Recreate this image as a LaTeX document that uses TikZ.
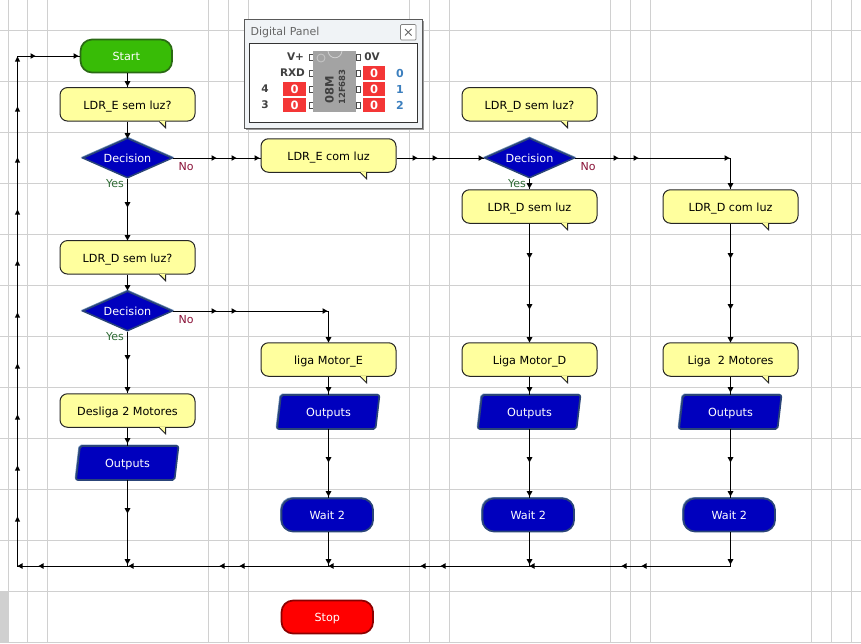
\documentclass[tikz,border=0pt]{standalone}
\usepackage{fontspec}
\setmainfont{DejaVu Sans}
\usetikzlibrary{shapes.geometric}
\definecolor{gridc}{HTML}{D0D0D0}
\definecolor{noteY}{HTML}{FFFF9E}
\definecolor{flowB}{HTML}{0000BE}
\definecolor{rimL}{HTML}{6A8CB8}
\definecolor{rimD}{HTML}{2A4478}
\definecolor{yesC}{HTML}{2F6B35}
\definecolor{noC}{HTML}{8A1238}
\definecolor{pinRed}{HTML}{F43636}
\definecolor{pinBlue}{HTML}{3C7FBE}
\definecolor{startG}{HTML}{38BC06}
\definecolor{startD}{HTML}{2A6A14}
\definecolor{panelBg}{HTML}{F0F3F6}
\tikzset{
  gridline/.style={gridc,line width=1pt},
  conn/.style={black,line width=1pt},
  txt/.style={font=\fontsize{11.2}{12}\selectfont,text height=9.5pt,text depth=0pt},
  note/.style={txt,draw=black!85,line width=1pt,fill=noteY,rounded corners=7.5pt,
    minimum width=135pt,minimum height=33.5pt,inner sep=0pt,text=black},
  noteTail/.style={draw=black!85,line width=1pt,fill=noteY,line join=miter},
  capsule/.style={txt,rounded corners=11.5pt,minimum width=91.5pt,minimum height=33pt,inner sep=0pt,text=white,line width=1.7pt},
  waitbox/.style={capsule,fill=flowB,draw=rimD,preaction={draw=rimL,line width=1.7pt,transform canvas={shift={(-0.6pt,0.6pt)}}}},
  startbox/.style={capsule,fill=startG,draw=startD},
  stopbox/.style={capsule,fill=red,draw=red!55!black},
  decide/.style={txt,diamond,aspect=2.25,inner sep=0pt,minimum width=90pt,minimum height=40pt,fill=flowB,draw=rimD,line width=1.5pt,text=white,
    preaction={draw=rimL,line width=1.5pt,transform canvas={shift={(0pt,0.8pt)}}}},
  outshape/.style={fill=flowB,draw=rimD,line width=1.7pt,rounded corners=2pt,preaction={draw=rimL,line width=1.7pt,transform canvas={shift={(-0.6pt,0.6pt)}}}},
  outtext/.style={txt,text=white,minimum width=94pt,minimum height=33pt,inner sep=0pt},
  yeslabel/.style={font=\fontsize{11}{12}\selectfont,text=yesC,inner sep=0pt},
  nolabel/.style={font=\fontsize{11}{12}\selectfont,text=noC,inner sep=0pt},
  redcell/.style={fill=pinRed,minimum width=22.5pt,minimum height=14.5pt,inner sep=0pt,text=white,font=\fontsize{11.5}{12}\bfseries\selectfont},
  panellabel/.style={font=\fontsize{10.5}{12}\bfseries\selectfont,text=black!75,inner sep=0pt},
  bluelabel/.style={font=\fontsize{11}{12}\bfseries\selectfont,text=pinBlue,inner sep=0pt},
  pinbox/.style={fill=white,draw=black!70,line width=0.7pt},
}
\newcommand{\tipD}[2]{\fill (#1,#2) ++(0,2.5) -- ++(-3,-5.5) -- ++(6,0) -- cycle;}
\newcommand{\tipU}[2]{\fill (#1,#2) ++(0,-2.5) -- ++(-2.6,5) -- ++(5.2,0) -- cycle;}
\newcommand{\tipR}[2]{\fill (#1,#2) ++(2.5,0) -- ++(-5,-2.8) -- ++(0,5.6) -- cycle;}
\newcommand{\tipL}[2]{\fill (#1,#2) ++(-2.5,0) -- ++(5,-2.8) -- ++(0,5.6) -- cycle;}
\newcommand{\notebox}[4]{%
  \node[note] (#1) at (#2,#3) {#4};
  \draw[noteTail] ([xshift=32pt]#1.south) -- ++(6,6) -- ++(0,-6);
  \draw[noteY,line width=1pt] ([xshift=32.8pt,yshift=-0.1pt]#1.south) -- ++(4.5,0);
}
\newcommand{\outbox}[3]{%
  \path[outshape] (#2-47.5,#3-17) -- (#2+51,#3-17) -- (#2+47,#3+17) -- (#2-51.5,#3+17) -- cycle;
  \node[outtext] (#1) at (#2,#3) {Outputs};
}
\begin{document}
\begin{tikzpicture}[x=1pt,y=-1pt]
\useasboundingbox (0,0) rectangle (861,643);
\fill[white] (0,0) rectangle (861,643);
\fill[gridc] (0,591) rectangle (8,643);
% grid
\foreach \g in {30.5,81.5,132.5,183.5,234.5,285.5,336.5,387.5,438.5,489.5,540.5,591.5,642.5}
  \draw[gridline] (0,\g) -- (861,\g);
\foreach \g in {8,27.5,47.5,208.5,228.5,248.5,409.5,429.5,449.5,610.5,630.5,650.5,811.5,831.5,851.5}
  \draw[gridline] (\g,0) -- (\g,643);

% column 1
\node[startbox] (start) at (126.3,56) {Start};
\notebox{n1}{127.5}{104.3}{LDR\_E sem luz?}
\node[decide] (d1) at (127.5,158) {Decision};
\notebox{n2}{127.5}{257.3}{LDR\_D sem luz?}
\node[decide] (d3) at (127.5,311) {Decision};
\notebox{n3}{127.5}{410.5}{Desliga 2 Motores}
\outbox{o1}{127.5}{463}
% column 2
\notebox{n4}{328.5}{155.5}{LDR\_E com luz}
\notebox{n5}{328.5}{359.5}{liga Motor\_E}
\outbox{o2}{328.5}{412}
\node[waitbox] (w2) at (327.3,515) {Wait 2};
\node[stopbox] (stop) at (327.3,617) {Stop};
% column 3
\notebox{n6}{529.5}{104.3}{LDR\_D sem luz?}
\node[decide] (d2) at (529.5,158) {Decision};
\notebox{n7}{529.5}{206.5}{LDR\_D sem luz}
\notebox{n8}{529.5}{359.5}{Liga Motor\_D}
\outbox{o3}{529.5}{412}
\node[waitbox] (w3) at (528.3,515) {Wait 2};
% column 4
\notebox{n9}{730.5}{206.5}{LDR\_D com luz}
\notebox{n10}{730.5}{359.5}{Liga\ \ 2 Motores}
\outbox{o4}{730.5}{412}
\node[waitbox] (w4) at (729.3,515) {Wait 2};

% free corners
\coordinate (busR) at (730.5,566);
\coordinate (busL) at (17.5,566);
\coordinate (topL) at (17.5,56);
\coordinate (cornD) at (730.5,158);
\coordinate (cornE) at (328.5,311);

% connectors
\draw[conn] (n1 |- start.south) -- (n1);
\draw[conn] (n1) -- (d1);
\draw[conn] (d1) -- (n2);
\draw[conn] (n2) -- (d3);
\draw[conn] (d3) -- (n3);
\draw[conn] (n3) -- (o1);
\draw[conn] (o1) -- (o1 |- busR);
\draw[conn] (d1.east) -- (d1.east -| n4.west);
\draw[conn] (d1.east -| n4.east) -- (d2.west);
\draw[conn] (d2.east) -- (cornD) -- (n9.north);
\draw[conn] (d2) -- (n7);
\draw[conn] (n7) -- (n8);
\draw[conn] (n8) -- (o3);
\draw[conn] (o3) -- (o3 |- w3.north);
\draw[conn] (o3 |- w3.south) -- (o3 |- busR);
\draw[conn] (d3.east) -- (cornE) -- (n5.north);
\draw[conn] (n5) -- (o2);
\draw[conn] (o2) -- (o2 |- w2.north);
\draw[conn] (o2 |- w2.south) -- (o2 |- busR);
\draw[conn] (n9) -- (n10);
\draw[conn] (n10) -- (o4);
\draw[conn] (o4) -- (o4 |- w4.north);
\draw[conn] (o4 |- w4.south) -- (busR) -- (busL) -- (topL) -- (start.west);

% arrowheads on the connectors
\foreach \y in {84,136,205,238,288,358,390,441,511,562} {\tipD{127.5}{\y}}
\foreach \y in {340,390,460,494,562} {\tipD{328.5}{\y}}
\foreach \y in {186,256,307,340,390,460,494,562} {\tipD{529.5}{\y}}
\foreach \y in {186,256,307,340,390,460,494,562} {\tipD{730.5}{\y}}
\foreach \y in {59,109,160,212,263,315,366,417,468,519} {\tipU{17.5}{\y}}
\foreach \x in {20,41,131,222,242,331,423,443,532,624,644} {\tipL{\x}{566}}
\foreach \x in {214,234,257,415,435,481,616,636,727} {\tipR{\x}{158}}
\foreach \x in {214,234,325} {\tipR{\x}{311}}
\foreach \x in {33,76} {\tipR{\x}{56}}

% branch labels
\node[yeslabel] (y1) at (115,184) {Yes};
\node[nolabel] (no1) at (186,167) {No};
\node[yeslabel] (y3) at (115,337) {Yes};
\node[nolabel] (no3) at (186,320) {No};
\node[yeslabel] (y2) at (517,184) {Yes};
\node[nolabel] (no2) at (588,167) {No};

% digital panel
\fill[black!40] (246,21) rectangle (424,130);
\draw[fill=panelBg,draw=black!65,line width=1pt] (244,19) rectangle (422,128);
\node[font=\fontsize{11}{12}\selectfont,text=black!60,inner sep=0pt] (ptitle) at (285,32) {Digital Panel};
\draw[fill=white,draw=black!50,line width=0.7pt,rounded corners=1pt] (400.5,24.5) rectangle (416,40);
\draw[black!60,line width=1pt] (405,29) -- (411.5,35.5) (411.5,29) -- (405,35.5);
\draw[fill=white,draw=black!80,line width=0.9pt] (249.5,43.5) rectangle (417,122);
\foreach \y in {57,73,89,105} {
  \draw[pinbox] (309,\y-3) rectangle (313,\y+3);
  \draw[pinbox] (356,\y-3) rectangle (360,\y+3);
}
\fill[black!36] (313,50.7) rectangle (356,112);
\draw[black!22,line width=0.8pt] (321,58) circle (4);
\draw[black!18,line width=0.8pt] (328,51) .. controls (329,60) and (341,60) .. (342,51);
\node[font=\fontsize{11.5}{12}\bfseries\selectfont,text=black!75,rotate=90,inner sep=0pt] (chipA) at (329.5,90) {08M};
\node[font=\fontsize{8.5}{10}\bfseries\selectfont,text=black!75,rotate=90,inner sep=0pt] (chipB) at (342,87) {12F683};
\node[panellabel] (vp) at (295.5,57) {V+};
\node[panellabel] (rxd) at (292.5,73) {RXD};
\node[panellabel] (p4) at (265,89) {4};
\node[panellabel] (p3) at (265,105) {3};
\node[panellabel] (zv) at (372,57) {0V};
\node[redcell] (r4) at (294.7,89) {0};
\node[redcell] (r3) at (294.7,105) {0};
\node[redcell] (r0) at (374,73) {0};
\node[redcell] (r1) at (374,89) {0};
\node[redcell] (r2) at (374,105) {0};
\node[bluelabel] (b0) at (400,73) {0};
\node[bluelabel] (b1) at (400,89) {1};
\node[bluelabel] (b2) at (400,105) {2};
\end{tikzpicture}
\end{document}
